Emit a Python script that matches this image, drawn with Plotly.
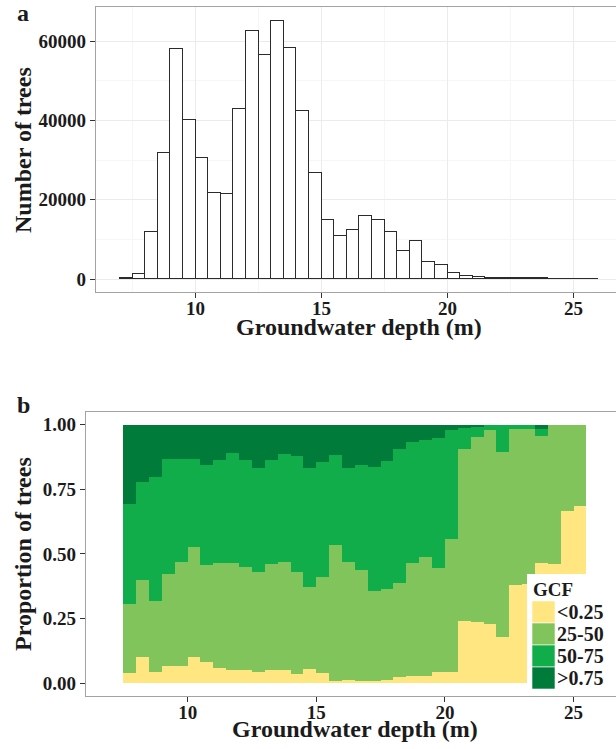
import plotly.graph_objects as go

# ---- panel a: histogram of groundwater depth (0.5 m bins) ----
depth_bins = [7.25, 7.75, 8.25, 8.75, 9.25, 9.75, 10.25, 10.75, 11.25, 11.75,
              12.25, 12.75, 13.25, 13.75, 14.25, 14.75, 15.25, 15.75, 16.25, 16.75,
              17.25, 17.75, 18.25, 18.75, 19.25, 19.75, 20.25, 20.75, 21.25, 21.75,
              22.25, 22.75, 23.25, 23.75, 24.25, 24.75, 25.25, 25.75]
tree_counts = [200, 1300, 11800, 31600, 58000, 40100, 30500, 21700, 21400, 42800,
               62400, 56400, 65000, 58200, 42400, 26700, 14700, 10800, 12200, 15700,
               14700, 11700, 6900, 9600, 4300, 3400, 1350, 600, 350, 250,
               150, 100, 80, 60, 50, 40, 30, 20]

# ---- panel b: proportion of trees per GCF class in each depth bin ----
prop_bins = [7.75, 8.25, 8.75, 9.25, 9.75, 10.25, 10.75, 11.25, 11.75, 12.25,
             12.75, 13.25, 13.75, 14.25, 14.75, 15.25, 15.75, 16.25, 16.75, 17.25,
             17.75, 18.25, 18.75, 19.25, 19.75, 20.25, 20.75, 21.25, 21.75, 22.25,
             22.75, 23.25, 23.75, 24.25, 24.75, 25.25]
gcf_lt025 = [0.042, 0.103, 0.044, 0.067, 0.067, 0.103, 0.084, 0.059, 0.052, 0.053,
             0.044, 0.052, 0.053, 0.037, 0.057, 0.040, 0.009, 0.012, 0.010, 0.008,
             0.013, 0.024, 0.027, 0.030, 0.044, 0.045, 0.243, 0.236, 0.229, 0.178,
             0.382, 0.385, 0.467, 0.461, 0.667, 0.686]
gcf_25_50 = [0.267, 0.297, 0.274, 0.358, 0.401, 0.425, 0.373, 0.408, 0.414, 0.399,
             0.388, 0.410, 0.417, 0.394, 0.316, 0.372, 0.525, 0.459, 0.430, 0.350,
             0.351, 0.363, 0.440, 0.458, 0.403, 0.512, 0.663, 0.716, 0.750, 0.717,
             0.603, 0.601, 0.492, 0.539, 0.333, 0.314]
gcf_50_75 = [0.386, 0.379, 0.480, 0.444, 0.402, 0.342, 0.389, 0.397, 0.425, 0.414,
             0.402, 0.404, 0.417, 0.449, 0.462, 0.444, 0.350, 0.364, 0.404, 0.480,
             0.498, 0.518, 0.467, 0.453, 0.504, 0.423, 0.084, 0.041, 0.021, 0.105,
             0.015, 0.014, 0.027, 0.000, 0.000, 0.000]
gcf_gt075 = [0.305, 0.221, 0.202, 0.131, 0.130, 0.130, 0.154, 0.136, 0.109, 0.134,
             0.166, 0.134, 0.113, 0.120, 0.165, 0.144, 0.116, 0.165, 0.156, 0.162,
             0.138, 0.095, 0.066, 0.059, 0.049, 0.020, 0.010, 0.007, 0.000, 0.000,
             0.000, 0.000, 0.014, 0.000, 0.000, 0.000]

count_ticks = [0, 20000, 40000, 60000]
prop_ticks = [0, 0.25, 0.5, 0.75, 1.0]
depth_ticks = [10, 15, 20, 25]

gcf_labels = ["<0.25", "25-50", "50-75", ">0.75"]
gcf_colors = ["#FFE681", "#80C45B", "#11AD4B", "#017B3A"]
gcf_series = [gcf_lt025, gcf_25_50, gcf_50_75, gcf_gt075]

W, H = 616, 749
SERIF = "Liberation Serif"
INK = "#1b1b1b"
BORDER = "#A3A3A3"


def px_x(p):
    return p / W


def px_y(p):
    return 1 - p / H


fig = go.Figure()

fig.add_trace(go.Bar(
    x=depth_bins, y=tree_counts, width=0.5,
    marker=dict(color="white", line=dict(color="#2b2b2b", width=1.1)),
    xaxis="x", yaxis="y", showlegend=False,
))

for name, color, vals in zip(gcf_labels, gcf_colors, gcf_series):
    fig.add_trace(go.Bar(
        x=prop_bins, y=vals, width=0.5, name=name,
        marker=dict(color=color, line=dict(width=0)),
        xaxis="x2", yaxis="y2", showlegend=False,
    ))

tick_font = dict(family=SERIF, size=19, color=INK, weight="bold")
axis_common = dict(
    ticks="outside", ticklen=5, tickwidth=1, tickcolor="#333333",
    showline=True, linecolor=BORDER, linewidth=1.3,
    zeroline=False, tickfont=tick_font,
)

fig.update_layout(
    width=W, height=H,
    margin=dict(l=0, r=0, t=0, b=0),
    paper_bgcolor="white", plot_bgcolor="white",
    barmode="stack", bargap=0,
    xaxis=dict(domain=[px_x(96), 1], range=[6.05, 26.685], anchor="y",
               tickvals=depth_ticks, mirror=True, ticklabelstandoff=-6,
               showgrid=True, gridcolor="#EBEBEB", gridwidth=1.2,
               minor=dict(tickvals=[7.5, 12.5, 17.5, 22.5], showgrid=True,
                          gridcolor="#F6F6F6", gridwidth=1, ticks=""),
               **axis_common),
    yaxis=dict(domain=[px_y(292), px_y(7.3)], range=[-3277, 68496], anchor="x",
               tickvals=count_ticks, ticktext=[str(v) for v in count_ticks],
               showgrid=True, gridcolor="#EBEBEB", gridwidth=1.2,
               minor=dict(tickvals=[10000, 30000, 50000], showgrid=True,
                          gridcolor="#F6F6F6", gridwidth=1, ticks=""),
               **axis_common),
    xaxis2=dict(domain=[px_x(86), 1], range=[6.05, 26.65], anchor="y2",
                tickvals=depth_ticks, mirror=True, showgrid=False,
                ticklabelstandoff=-6, **axis_common),
    yaxis2=dict(domain=[px_y(696), px_y(411.7)], range=[-0.05, 1.05], anchor="x2",
                tickvals=prop_ticks, ticktext=[f"{v:.2f}" for v in prop_ticks],
                showgrid=False, **axis_common),
)

title_font = dict(family=SERIF, size=24, color=INK, weight="bold")
notes = [
    dict(text="a", x=px_x(15), y=px_y(13), xanchor="left", yanchor="middle"),
    dict(text="b", x=px_x(15), y=px_y(405), xanchor="left", yanchor="middle"),
    dict(text="Groundwater depth (m)", x=px_x(359), y=px_y(327),
         xanchor="center", yanchor="middle"),
    dict(text="Groundwater depth (m)", x=px_x(355), y=px_y(729),
         xanchor="center", yanchor="middle"),
    dict(text="Number of trees", x=px_x(23), y=px_y(150), textangle=-90,
         xanchor="center", yanchor="middle"),
    dict(text="Proportion of trees", x=px_x(23), y=px_y(554), textangle=-90,
         xanchor="center", yanchor="middle"),
]
for n in notes:
    fig.add_annotation(xref="paper", yref="paper", showarrow=False,
                       font=title_font, **n)

# GCF legend drawn inside panel b (bottom-right corner)
fig.add_shape(type="rect", xref="paper", yref="paper",
              x0=px_x(527), x1=1, y0=px_y(695), y1=px_y(574),
              fillcolor="white", line=dict(width=0), layer="above")
fig.add_annotation(xref="paper", yref="paper", showarrow=False,
                   text="GCF", x=px_x(531), y=px_y(589),
                   xanchor="left", yanchor="middle",
                   font=dict(family=SERIF, size=19, color=INK, weight="bold"))
key_top, key_h = 601, 22
for i, (label, color) in enumerate(zip(gcf_labels, gcf_colors)):
    y_top = key_top + i * key_h
    fig.add_shape(type="rect", xref="paper", yref="paper",
                  x0=px_x(532), x1=px_x(555), y0=px_y(y_top + key_h), y1=px_y(y_top),
                  fillcolor=color, line=dict(color="white", width=0.6), layer="above")
    fig.add_annotation(xref="paper", yref="paper", showarrow=False,
                       text=label, x=px_x(555), y=px_y(y_top + key_h / 2),
                       xanchor="left", yanchor="middle",
                       font=dict(family=SERIF, size=20, color=INK, weight="bold"))

fig.write_html("out.html")
